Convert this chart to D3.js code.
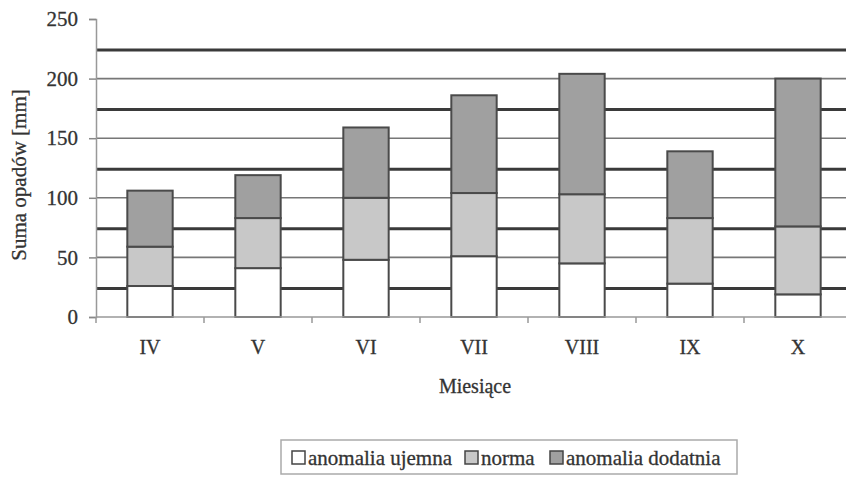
<!DOCTYPE html>
<html><head><meta charset="utf-8">
<script src="https://cdn.jsdelivr.net/npm/d3@7"></script>
<style>body{margin:0;background:#fff}svg{display:block}</style>
</head><body>
<svg id="c" width="846" height="479"></svg>
<script>
const categories = ["IV","V","VI","VII","VIII","IX","X"];
const anomaliaUjemna = [26, 41, 48, 51, 45, 28, 19];
const norma = [33, 42, 52, 53, 58, 55, 57];
const anomaliaDodatnia = [47, 36, 59, 82, 101, 56, 124];
const seriesNames = ["anomalia ujemna","norma","anomalia dodatnia"];
const yTicks = [0, 50, 100, 150, 200, 250];
const heavyLines = [24, 74, 124, 174, 224];

const colors = ["#ffffff", "#c8c8c8", "#a0a0a0"];
const font = "'Liberation Serif', 'Times New Roman', 'DejaVu Serif', serif";
const textColor = "#333";
const svg = d3.select("#c");

const x = d3.scaleBand().domain(categories).range([96, 852]).paddingInner(0.58).paddingOuter(0.29);
const y = d3.scaleLinear().domain([0, 250]).range([317, 19]);

// grid lines
svg.append("g").selectAll("line").data(yTicks.filter(d => d > 0 && d < 250)).join("line")
  .attr("x1", 96).attr("x2", 846).attr("y1", d => y(d)).attr("y2", d => y(d))
  .attr("stroke", "#777").attr("stroke-width", 1.6);
svg.append("g").selectAll("line").data(heavyLines).join("line")
  .attr("x1", 96).attr("x2", 846).attr("y1", d => y(d)).attr("y2", d => y(d))
  .attr("stroke", "#3a3a3a").attr("stroke-width", 3);

// stacked bars
const rows = categories.map((c, i) => ({cat: c, "anomalia ujemna": anomaliaUjemna[i], "norma": norma[i], "anomalia dodatnia": anomaliaDodatnia[i]}));
const stack = d3.stack().keys(seriesNames)(rows);
stack.forEach((layer, li) => {
  svg.append("g").selectAll("rect").data(layer).join("rect")
    .attr("x", d => x(d.data.cat))
    .attr("width", x.bandwidth())
    .attr("y", d => y(d[1]))
    .attr("height", d => y(d[0]) - y(d[1]))
    .attr("fill", colors[li])
    .attr("stroke", "#4a4a4a").attr("stroke-width", 2);
});

function styleText(sel, size) {
  sel.attr("font-family", font).attr("font-size", size).attr("fill", textColor)
    .attr("stroke", textColor).attr("stroke-width", 0.3);
}

// y axis
const yAxis = svg.append("g").attr("transform", "translate(96,0)")
  .call(d3.axisLeft(y).tickValues(yTicks).tickSize(7).tickPadding(11));
yAxis.select(".domain").attr("stroke", "#999").attr("stroke-width", 1.5);
yAxis.selectAll(".tick line").attr("stroke", "#888").attr("stroke-width", 1.5);
styleText(yAxis.selectAll("text"), 21);

// x axis
const xAxis = svg.append("g").attr("transform", "translate(0,317)")
  .call(d3.axisBottom(x).tickSize(0).tickPadding(23));
xAxis.select(".domain").attr("d", "M96,0H846").attr("stroke", "#999").attr("stroke-width", 1.5);
styleText(xAxis.selectAll("text"), 20);
const step = x.step();
svg.append("g").selectAll("line").data(d3.range(0, categories.length + 1)).join("line")
  .attr("x1", i => 96 + i * step).attr("x2", i => 96 + i * step)
  .attr("y1", 317).attr("y2", 323).attr("stroke", "#999").attr("stroke-width", 1.5);

// axis titles
styleText(svg.append("text").attr("transform", "translate(26,175) rotate(-90)")
  .attr("text-anchor", "middle").text("Suma opadów [mm]"), 21);
styleText(svg.append("text").attr("x", 475).attr("y", 393)
  .attr("text-anchor", "middle").text("Miesiące"), 20);

// legend
const lg = svg.append("g");
lg.append("rect").attr("x", 281).attr("y", 440).attr("width", 456).attr("height", 34)
  .attr("fill", "#fff").attr("stroke", "#aaa").attr("stroke-width", 1.5);
const legendX = [292, 465, 550];
seriesNames.forEach((n, i) => {
  lg.append("rect").attr("x", legendX[i]).attr("y", 451).attr("width", 13).attr("height", 13)
    .attr("fill", colors[i]).attr("stroke", "#444").attr("stroke-width", 1.5);
  styleText(lg.append("text").attr("x", legendX[i] + 16).attr("y", 465).text(n), 21);
});
</script>
</body></html>
